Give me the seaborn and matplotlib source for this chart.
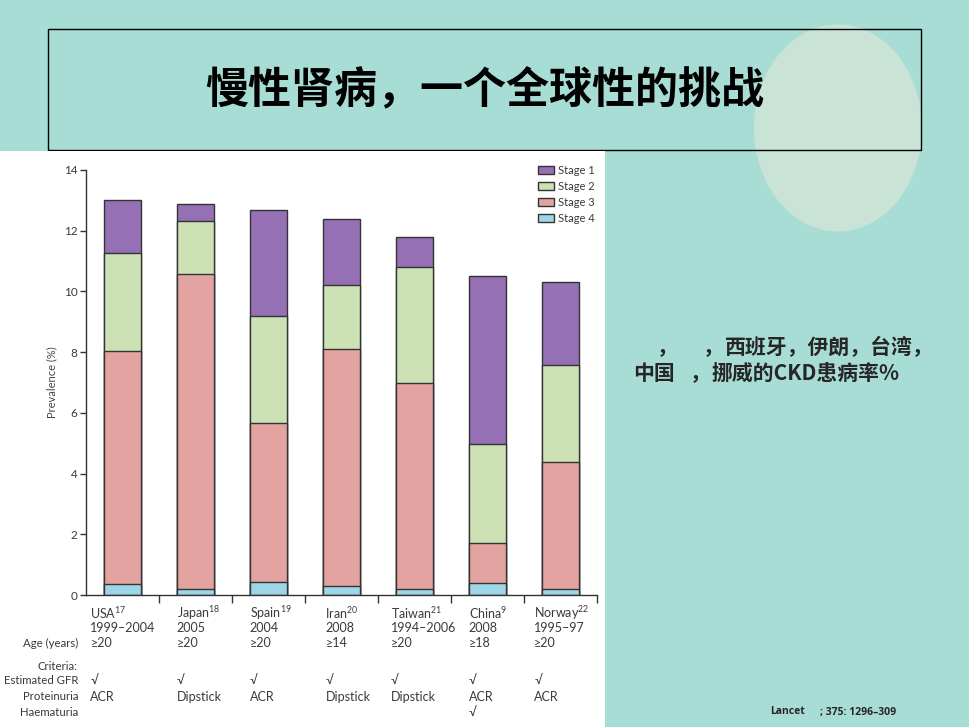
import numpy as np
import pandas as pd
import matplotlib
matplotlib.use("Agg")
import matplotlib.pyplot as plt
import seaborn as sns
from matplotlib.patches import Rectangle, Ellipse, Patch
from matplotlib import transforms

# ---------------- data ----------------
countries = ["USA", "Japan", "Spain", "Iran", "Taiwan", "China", "Norway"]
refs = ["17", "18", "19", "20", "21", "9", "22"]
years = ["1999–2004", "2005", "2004", "2008", "1994–2006", "2008", "1995–97"]
ages = ["≥20", "≥20", "≥20", "≥14", "≥20", "≥18", "≥20"]
gfr = ["√", "√", "√", "√", "√", "√", "√"]
proteinuria = ["ACR", "Dipstick", "ACR", "Dipstick", "Dipstick", "ACR", "ACR"]
haematuria = ["", "", "", "", "", "√", ""]

stage4 = [0.35, 0.20, 0.44, 0.29, 0.20, 0.40, 0.20]
stage3 = [7.68, 10.38, 5.24, 7.81, 6.78, 1.31, 4.19]
stage2 = [3.22, 1.75, 3.51, 2.12, 3.83, 3.27, 3.20]
stage1 = [1.75, 0.54, 3.50, 2.16, 0.97, 5.52, 2.71]

stage_names = ["Stage 1", "Stage 2", "Stage 3", "Stage 4"]
yticks = [0, 2, 4, 6, 8, 10, 12, 14]

title = "慢性肾病，一个全球性的挑战"
side_line1 = ["，", "，", "西班牙，伊朗，台湾，"]
side_line2 = ["中国", "，", "挪威的CKD患病率%"]
citation = ["Lancet", "; 375: 1296–309"]

# ---------------- style ----------------
BG = "#A8DDD5"
C1, C2, C3, C4 = "#9670B4", "#CCE2B5", "#E3A4A1", "#9DD7E7"
EDGE = "#333333"
TXT = "#3a3a3a"

sns.set_style("ticks")
plt.rcParams["font.family"] = ["Lato", "DejaVu Sans"]
plt.rcParams["mathtext.fontset"] = "custom"
plt.rcParams["mathtext.rm"] = "Lato"
plt.rcParams["mathtext.it"] = "Lato:italic"
plt.rcParams["mathtext.bf"] = "Lato:bold"
CJK = ["Noto Sans CJK SC", "DejaVu Sans"]

W, H = 969, 727
fig = plt.figure(figsize=(W / 100, H / 100), dpi=100)
fig.patch.set_facecolor(BG)

# background slide layer (pixel coordinates)
bg = fig.add_axes([0, 0, 1, 1], zorder=0)
bg.set_xlim(0, W)
bg.set_ylim(H, 0)
bg.axis("off")
bg.add_patch(Ellipse((838, 128), 168, 207, fc="#C9E4D6", ec="none", zorder=1))
bg.add_patch(Rectangle((48, 29), 873, 121, fill=False, ec="black", lw=1.0, zorder=2))
bg.add_patch(Rectangle((0, 151), 605, 580, fc="white", ec="none", zorder=3))
bg.text(485, 90, title, ha="center", va="center", fontsize=31, fontweight="bold",
        family=CJK, color="black", zorder=4)

# right-side description
bg.text(657, 347, side_line1[0], ha="left", va="center", fontsize=15, fontweight="bold", family=CJK)
bg.text(703, 347, side_line1[1], ha="left", va="center", fontsize=15, fontweight="bold", family=CJK)
bg.text(725, 347, side_line1[2], ha="left", va="center", fontsize=15, fontweight="bold", family=CJK)
bg.text(633, 373, side_line2[0], ha="left", va="center", fontsize=15, fontweight="bold", family=CJK)
bg.text(690, 373, side_line2[1], ha="left", va="center", fontsize=15, fontweight="bold", family=CJK)
bg.text(712, 373, side_line2[2], ha="left", va="center", fontsize=15, fontweight="bold", family=CJK)

# citation
bg.text(770, 712, citation[0], ha="left", va="center", fontsize=7.5, fontweight="bold",
        family=["Open Sans", "DejaVu Sans"])
bg.text(820, 712, citation[1], ha="left", va="center", fontsize=7.5, fontweight="bold",
        family=["Open Sans", "DejaVu Sans"])

# ---------------- chart ----------------
ax = fig.add_axes([86 / W, 1 - 595 / H, 511 / W, 425 / H], zorder=5)
ax.set_facecolor("white")

layers = np.cumsum(np.array([stage4, stage3, stage2, stage1]), axis=0)
layer_colors = [C4, C3, C2, C1]
for k in [3, 2, 1, 0]:
    d = pd.DataFrame({"country": countries, "value": layers[k]})
    sns.barplot(data=d, x="country", y="value", order=countries, color=layer_colors[k],
                saturation=1, width=0.51, edgecolor=EDGE, linewidth=1.0,
                errorbar=None, ax=ax)

ax.set_xlim(-0.5, len(countries) - 0.5)
ax.set_ylim(0, 14)
ax.set_yticks(yticks)
ax.set_xticks(np.arange(len(countries)) + 0.5)
ax.set_xticklabels([])
ax.set_xlabel("")
ax.set_ylabel("Prevalence (%)", fontsize=8, color="#444444", labelpad=5)
ax.tick_params(axis="y", labelsize=8.5, labelcolor=TXT, length=4, width=1, color=EDGE, pad=2)
ax.tick_params(axis="x", length=6, width=1, color=EDGE)
for s in ["left", "bottom"]:
    ax.spines[s].set_color(EDGE)
    ax.spines[s].set_linewidth(1.0)
sns.despine(ax=ax)

handles = [Patch(fc=c, ec=EDGE, lw=1.0, label=n) for c, n in zip([C1, C2, C3, C4], stage_names)]
leg = ax.legend(handles=handles, loc="upper right", bbox_to_anchor=(0.995, 1.012),
                frameon=False, fontsize=8, handlelength=1.4, handleheight=0.65,
                labelspacing=0.45, handletextpad=0.35, borderaxespad=0, borderpad=0)
for t in leg.get_texts():
    t.set_color(TXT)

# ---------------- table under the bars ----------------
tr = transforms.blended_transform_factory(ax.transData, fig.transFigure)
col_dx = [-0.44, -0.26, -0.26, -0.22, -0.32, -0.26, -0.36]
rows_y = [613, 628, 643, 667, 681, 697, 713]

def fy(py):
    return 1 - py / H

fs = 9
for i in range(len(countries)):
    x = i + col_dx[i]
    ax.text(x, fy(rows_y[0]), countries[i] + r"$^{\mathrm{" + refs[i] + "}}$", transform=tr,
            ha="left", va="center", fontsize=fs, color=TXT, clip_on=False)
    ax.text(x, fy(rows_y[1]), years[i], transform=tr, ha="left", va="center",
            fontsize=fs, color=TXT, clip_on=False)
    ax.text(x, fy(rows_y[2]), ages[i], transform=tr, ha="left", va="center",
            fontsize=fs, color=TXT, clip_on=False)
    ax.text(x, fy(rows_y[4]), gfr[i], transform=tr, ha="left", va="center",
            fontsize=fs, color=TXT, clip_on=False)
    ax.text(x, fy(rows_y[5]), proteinuria[i], transform=tr, ha="left", va="center",
            fontsize=fs, color=TXT, clip_on=False)
    if haematuria[i]:
        ax.text(x, fy(rows_y[6]), haematuria[i], transform=tr, ha="left", va="center",
                fontsize=fs, color=TXT, clip_on=False)

row_labels = {2: "Age (years)", 3: "Criteria:", 4: "Estimated GFR", 5: "Proteinuria", 6: "Haematuria"}
for r, lab in row_labels.items():
    fig.text(78 / W, fy(rows_y[r]), lab, ha="right", va="center", fontsize=8.2, color=TXT)

fig.savefig("out.png", dpi=100, facecolor=fig.get_facecolor())
